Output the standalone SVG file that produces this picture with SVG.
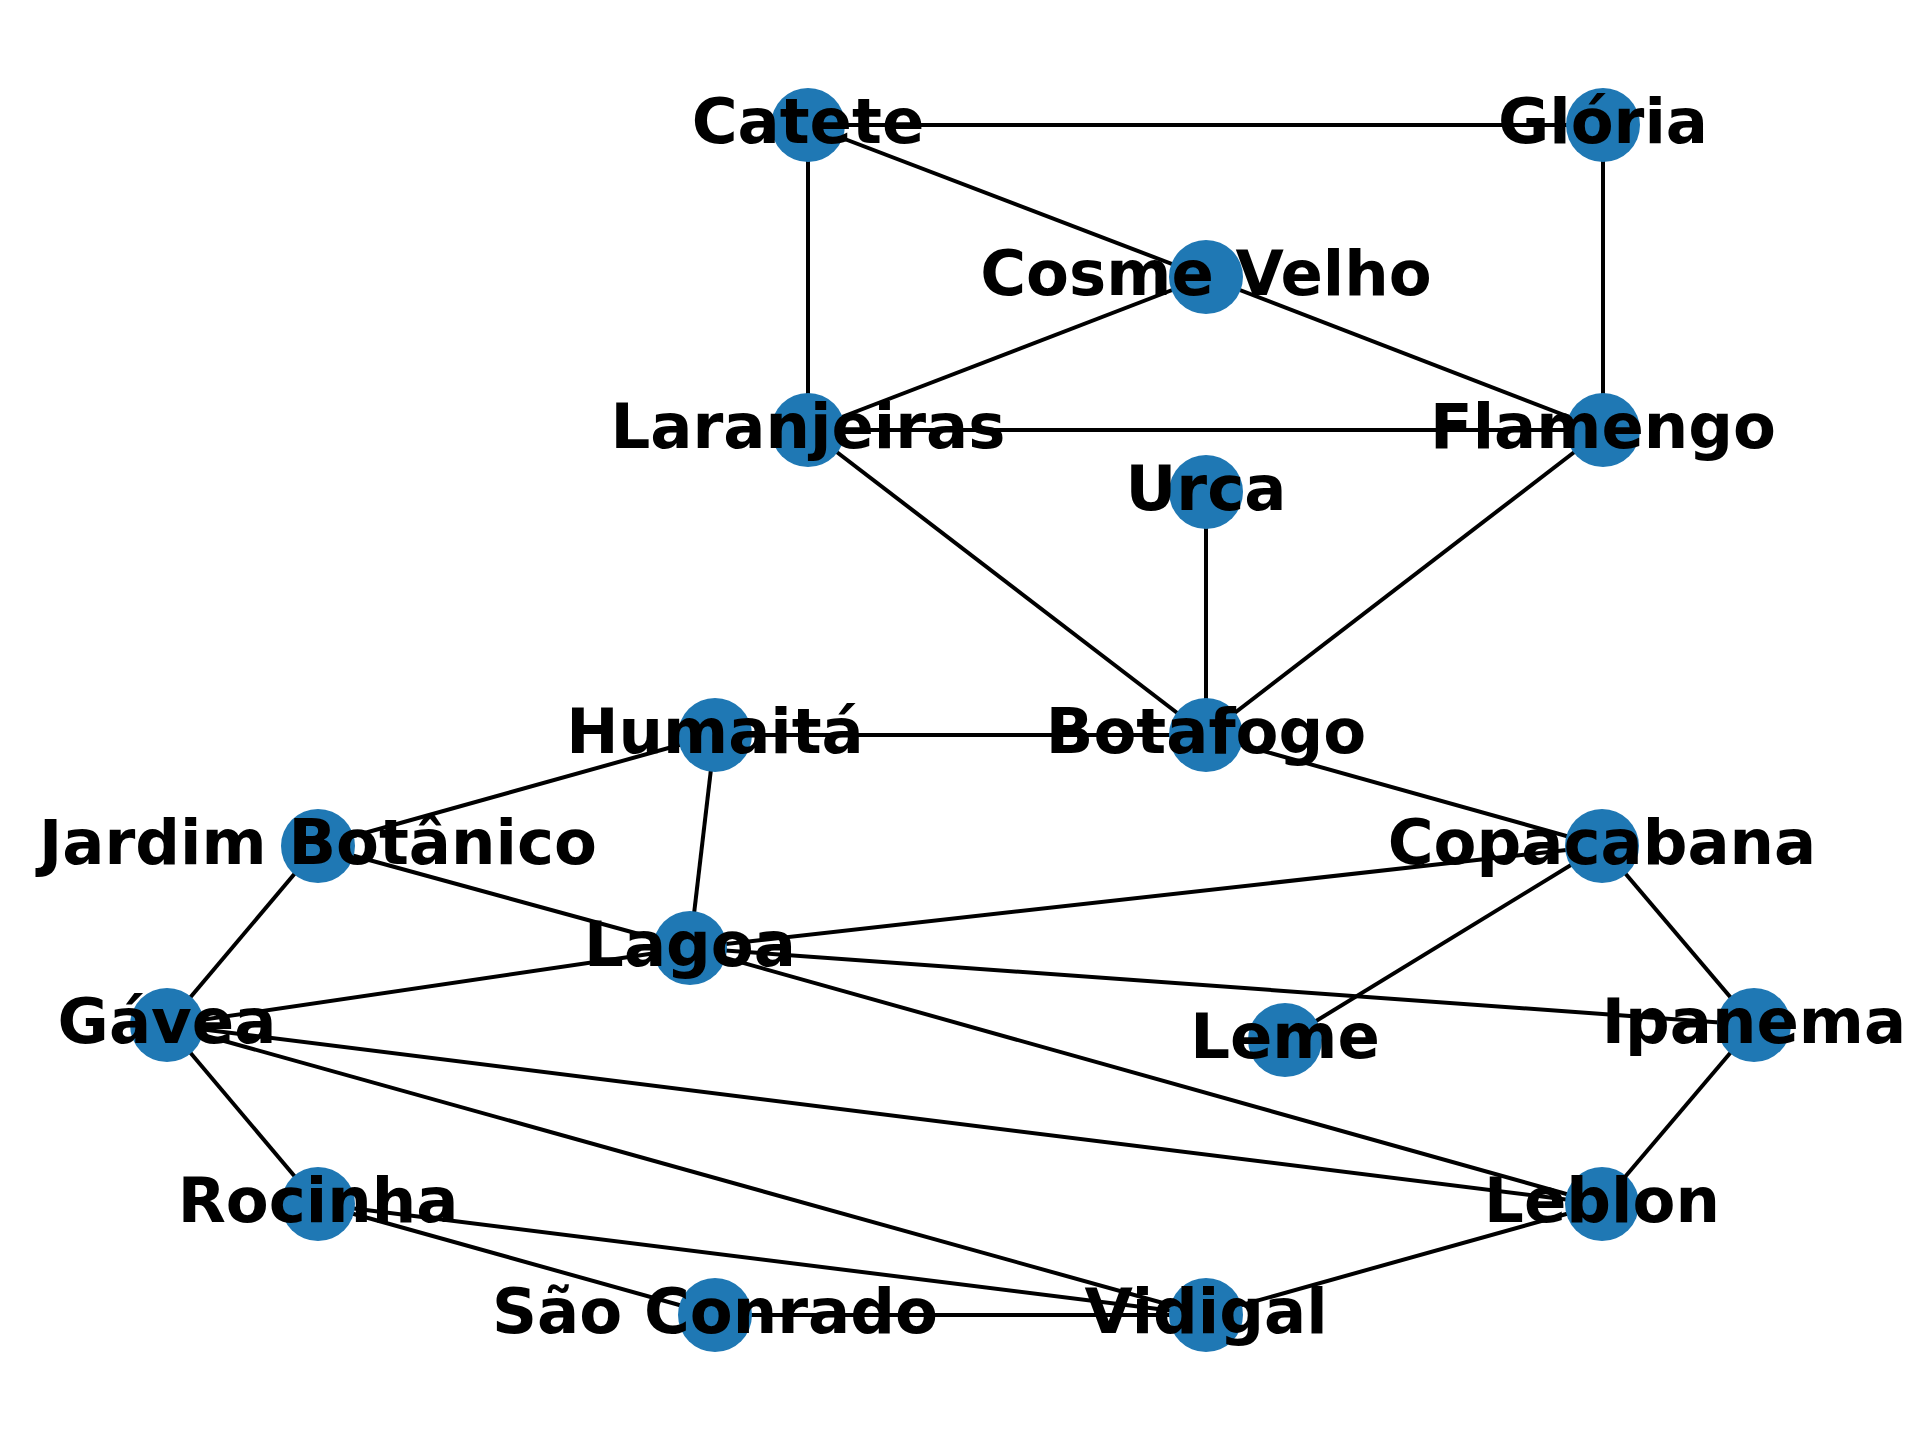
<svg xmlns="http://www.w3.org/2000/svg" width="1920" height="1440" viewBox="0 0 1920 1440">
  <style>
    .edge { stroke: #000; stroke-width: 4; fill: none; }
    .node circle { fill: #1f78b4; }
    .node text { font-family: "DejaVu Sans", sans-serif; font-weight: bold; font-size: 62.5px; fill: #000; text-anchor: middle; }
  </style>
  <rect width="1920" height="1440" fill="#fff"/>
  <g id="edges">
    <line class="edge" x1="808" y1="125" x2="1603" y2="125"/>
    <line class="edge" x1="808" y1="125" x2="808" y2="430"/>
    <line class="edge" x1="808" y1="125" x2="1206" y2="277"/>
    <line class="edge" x1="1206" y1="277" x2="1603" y2="430"/>
    <line class="edge" x1="1206" y1="277" x2="808" y2="430"/>
    <line class="edge" x1="808" y1="430" x2="1603" y2="430"/>
    <line class="edge" x1="1603" y1="125" x2="1603" y2="430"/>
    <line class="edge" x1="808" y1="430" x2="1206" y2="735"/>
    <line class="edge" x1="1603" y1="430" x2="1206" y2="735"/>
    <line class="edge" x1="1206" y1="492" x2="1206" y2="735"/>
    <line class="edge" x1="715" y1="735" x2="1206" y2="735"/>
    <line class="edge" x1="1206" y1="735" x2="1602" y2="846"/>
    <line class="edge" x1="715" y1="735" x2="318" y2="846"/>
    <line class="edge" x1="715" y1="735" x2="690" y2="948"/>
    <line class="edge" x1="318" y1="846" x2="690" y2="948"/>
    <line class="edge" x1="690" y1="948" x2="1602" y2="1204"/>
    <line class="edge" x1="318" y1="846" x2="167" y2="1025"/>
    <line class="edge" x1="1602" y1="846" x2="690" y2="948"/>
    <line class="edge" x1="1602" y1="846" x2="1285" y2="1040"/>
    <line class="edge" x1="1602" y1="846" x2="1754" y2="1025"/>
    <line class="edge" x1="690" y1="948" x2="167" y2="1025"/>
    <line class="edge" x1="690" y1="948" x2="1754" y2="1025"/>
    <line class="edge" x1="167" y1="1025" x2="1602" y2="1204"/>
    <line class="edge" x1="167" y1="1025" x2="1206" y2="1315"/>
    <line class="edge" x1="167" y1="1025" x2="318" y2="1204"/>
    <line class="edge" x1="1754" y1="1025" x2="1602" y2="1204"/>
    <line class="edge" x1="1602" y1="1204" x2="1206" y2="1315"/>
    <line class="edge" x1="318" y1="1204" x2="715" y2="1315"/>
    <line class="edge" x1="318" y1="1204" x2="1206" y2="1315"/>
    <line class="edge" x1="715" y1="1315" x2="1206" y2="1315"/>
  </g>
  <g id="node-catete" class="node"><circle cx="808" cy="125" r="37"/><text x="808" y="143">Catete</text></g>
  <g id="node-gloria" class="node"><circle cx="1603" cy="125" r="37"/><text x="1603" y="143">Glória</text></g>
  <g id="node-cosme-velho" class="node"><circle cx="1206" cy="277" r="37"/><text x="1206" y="295">Cosme Velho</text></g>
  <g id="node-laranjeiras" class="node"><circle cx="808" cy="430" r="37"/><text x="808" y="448">Laranjeiras</text></g>
  <g id="node-flamengo" class="node"><circle cx="1603" cy="430" r="37"/><text x="1603" y="448">Flamengo</text></g>
  <g id="node-urca" class="node"><circle cx="1206" cy="492" r="37"/><text x="1206" y="510">Urca</text></g>
  <g id="node-humaita" class="node"><circle cx="715" cy="735" r="37"/><text x="715" y="753">Humaitá</text></g>
  <g id="node-botafogo" class="node"><circle cx="1206" cy="735" r="37"/><text x="1206" y="753">Botafogo</text></g>
  <g id="node-jardim-botanico" class="node"><circle cx="318" cy="846" r="37"/><text x="318" y="864">Jardim Botânico</text></g>
  <g id="node-copacabana" class="node"><circle cx="1602" cy="846" r="37"/><text x="1602" y="864">Copacabana</text></g>
  <g id="node-lagoa" class="node"><circle cx="690" cy="948" r="37"/><text x="690" y="966">Lagoa</text></g>
  <g id="node-gavea" class="node"><circle cx="167" cy="1025" r="37"/><text x="167" y="1043">Gávea</text></g>
  <g id="node-leme" class="node"><circle cx="1285" cy="1040" r="37"/><text x="1285" y="1058">Leme</text></g>
  <g id="node-ipanema" class="node"><circle cx="1754" cy="1025" r="37"/><text x="1754" y="1043">Ipanema</text></g>
  <g id="node-rocinha" class="node"><circle cx="318" cy="1204" r="37"/><text x="318" y="1222">Rocinha</text></g>
  <g id="node-leblon" class="node"><circle cx="1602" cy="1204" r="37"/><text x="1602" y="1222">Leblon</text></g>
  <g id="node-sao-conrado" class="node"><circle cx="715" cy="1315" r="37"/><text x="715" y="1333">São Conrado</text></g>
  <g id="node-vidigal" class="node"><circle cx="1206" cy="1315" r="37"/><text x="1206" y="1333">Vidigal</text></g>
</svg>
